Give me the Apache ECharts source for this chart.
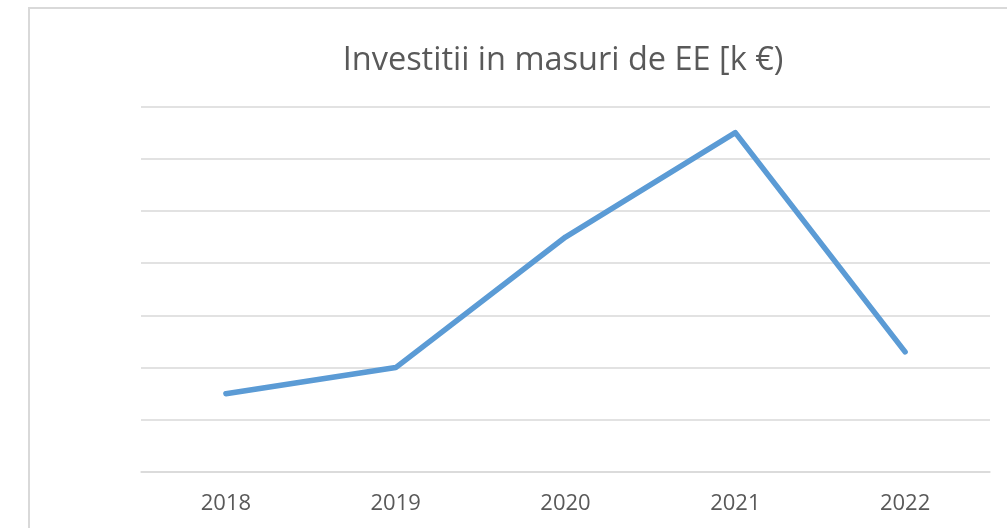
<!DOCTYPE html>
<html>
<head>
<meta charset="utf-8">
<script src="https://cdn.jsdelivr.net/npm/echarts@6/dist/echarts.min.js"></script>
<style>
  html, body { margin: 0; padding: 0; background: #fff; overflow: hidden; }
  #main { width: 1007px; height: 528px; }
</style>
</head>
<body>
<div id="main"></div>
<script>
// 数据
const years = ['2018', '2019', '2020', '2021', '2022']
const investitii = [1.5, 2.0, 4.5, 6.5, 2.3]
const chartTitle = 'Investitii in masuri de EE [k €)'

const myChart = echarts.init(document.getElementById('main'))

const option = {
  animation: false,
  backgroundColor: '#fff',
  title: {
    text: chartTitle,
    left: 558,
    top: 39,
    textAlign: 'center',
    textStyle: {
      fontFamily: 'Open Sans',
      fontSize: 32.5,
      fontWeight: 'normal',
      color: '#595959'
    }
  },
  //边框
  graphic: [{
    type: 'rect',
    shape: { x: 29, y: 8, width: 1100, height: 700 },
    style: { fill: 'none', stroke: '#d9d9d9', lineWidth: 2 }
  }],
  grid: {
    left: 141,
    right: 17,
    top: 106.5,
    bottom: 56
  },
  xAxis: {
    type: 'category',
    data: years,
    boundaryGap: true,
    axisLine: { show: true, lineStyle: { color: '#d9d9d9', width: 1.5 } },
    axisTick: { show: false },
    axisLabel: {
      margin: 21,
      fontFamily: 'Open Sans',
      fontSize: 22,
      color: '#595959'
    }
  },
  yAxis: {
    type: 'value',
    min: 0,
    max: 7,
    interval: 1,
    axisLabel: { show: false },
    axisLine: { show: false },
    axisTick: { show: false },
    splitLine: { lineStyle: { color: '#d9d9d9', width: 1.5 } }
  },
  series: [{
    type: 'line',
    data: investitii,
    symbol: 'none',
    smooth: false,
    lineStyle: { color: '#5b9bd5', width: 5.5, cap: 'round', join: 'round' }
  }]
}

option && myChart.setOption(option)
</script>
</body>
</html>
